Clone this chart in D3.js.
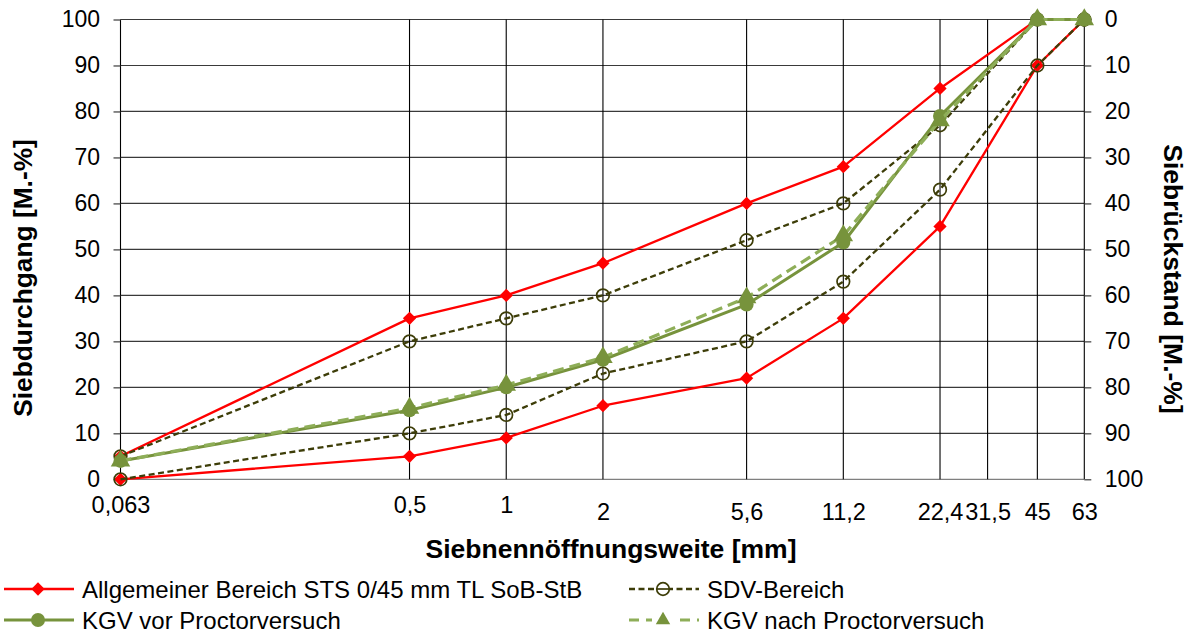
<!DOCTYPE html>
<html>
<head>
<meta charset="utf-8">
<script src="https://cdn.jsdelivr.net/npm/d3@7"></script>
<style>
  html, body { margin: 0; padding: 0; background: #fff; }
  svg { display: block; font-family: "Liberation Sans", Arial, sans-serif; }
</style>
</head>
<body>
<svg id="chart" width="1195" height="635"></svg>
<script>
// Sieve sizes [mm] that carry measured values
const sieveSizes = [0.063, 0.5, 1, 2, 5.6, 11.2, 22.4, 45, 63];
// Sieve sizes shown on the axis (grid lines + labels)
const gridSizes = [0.063, 0.5, 1, 2, 5.6, 11.2, 22.4, 31.5, 45, 63];
const gridLabels = ["0,063", "0,5", "1", "2", "5,6", "11,2", "22,4", "31,5", "45", "63"];
const yTicks = [0, 10, 20, 30, 40, 50, 60, 70, 80, 90, 100];

// Passing percentages [M.-%]
const stsUpper = [5, 35, 40, 47, 60, 68, 85, 100, 100];
const stsLower = [0, 5, 9, 16, 22, 35, 55, 90, 100];
const sdvUpper = [5, 30, 35, 40, 52, 60, 77, 100, 100];
const sdvLower = [0, 10, 14, 23, 30, 43, 63, 90, 100];
const kgvVor = [4, 15, 20, 26, 38, 51.5, 79, 100, 100];
const kgvNach = [4, 15.5, 20.5, 26.5, 39.5, 53, 78, 100, 100];

const legendLabels = [
  "Allgemeiner Bereich STS 0/45 mm TL SoB-StB",
  "SDV-Bereich",
  "KGV vor Proctorversuch",
  "KGV nach Proctorversuch"
];

const RED = "#ff0000";
const OLIVE = "#3d3d08";
const GREEN = "#77933c";
const GREEN_LIGHT = "#8eae58";

const svg = d3.select("#chart");
const plotLeft = 120.5, plotRight = 1084.3, plotTop = 19.5, plotBottom = 479.3;

const x = d3.scaleLog().domain([0.063, 63]).range([plotLeft, plotRight]);
const y = d3.scaleLinear().domain([0, 100]).range([plotBottom, plotTop]);
const yRev = d3.scaleLinear().domain([100, 0]).range([plotBottom, plotTop]);

// Horizontal grid
svg.append("g").selectAll("line").data(yTicks).join("line")
  .attr("x1", plotLeft).attr("x2", plotRight)
  .attr("y1", d => y(d)).attr("y2", d => y(d))
  .attr("stroke", d => d === 0 ? "#7f7f7f" : "#3a3a3a").attr("stroke-width", 1.2);

// Vertical grid
svg.append("g").selectAll("line").data(gridSizes).join("line")
  .attr("x1", d => x(d)).attr("x2", d => x(d))
  .attr("y1", plotTop).attr("y2", plotBottom)
  .attr("stroke", "#000").attr("stroke-width", 1.1);

// Left axis (passing)
const yAxisL = d3.axisLeft(y).tickValues(yTicks).tickSize(7).tickPadding(13.5);
const gL = svg.append("g").attr("transform", `translate(${plotLeft},0)`).call(yAxisL);
// Right axis (retained)
const yAxisR = d3.axisRight(yRev).tickValues(yTicks).tickSize(7).tickPadding(13.5);
const gR = svg.append("g").attr("transform", `translate(${plotRight},0)`).call(yAxisR);
[gL, gR].forEach(g => {
  g.select(".domain").remove();
  g.selectAll(".tick line").attr("stroke", "#3a3a3a").attr("stroke-width", 1.2);
  g.selectAll(".tick text").attr("font-size", 23).attr("fill", "#000")
    .attr("font-family", "Liberation Sans, Arial, sans-serif");
});

// X axis labels (the three finest sieves sit a little higher)
const xAxis = d3.axisBottom(x).tickValues(gridSizes)
  .tickFormat((d, i) => gridLabels[i]).tickSize(0).tickPadding(0);
const gX = svg.append("g").attr("transform", `translate(0,${plotBottom})`).call(xAxis);
gX.select(".domain").remove();
gX.selectAll(".tick text")
  .attr("font-size", 23.5).attr("fill", "#000")
  .attr("font-family", "Liberation Sans, Arial, sans-serif")
  .attr("dy", null)
  .attr("y", d => d <= 1 ? 34 : 41);

// Axis titles
svg.append("text").attr("x", 611).attr("y", 558).attr("text-anchor", "middle")
  .attr("font-size", 26.5).attr("font-weight", "bold").text("Siebnennöffnungsweite [mm]");
svg.append("text").attr("transform", "translate(32,278) rotate(-90)").attr("text-anchor", "middle")
  .attr("font-size", 26.3).attr("font-weight", "bold").text("Siebdurchgang [M.-%]");
svg.append("text").attr("transform", "translate(1164,279) rotate(90)").attr("text-anchor", "middle")
  .attr("font-size", 26.5).attr("font-weight", "bold").text("Siebrückstand [M.-%]");

// Marker shapes
const diamond = d3.symbol().type(d3.symbolDiamond2).size(112);
const triangle = d3.symbol().type(d3.symbolTriangle).size(165);
const triangleSmall = d3.symbol().type(d3.symbolTriangle).size(90);

const line = d3.line().x((d, i) => x(sieveSizes[i])).y(d => y(d));
const plot = svg.append("g");

function drawSeries(values, opts) {
  plot.append("path").datum(values)
    .attr("d", line).attr("fill", "none")
    .attr("stroke", opts.stroke).attr("stroke-width", opts.width)
    .attr("stroke-dasharray", opts.dash || null)
    .attr("stroke-linejoin", "round");
  const pts = plot.append("g").selectAll("g").data(values).join("g")
    .attr("transform", (d, i) => `translate(${x(sieveSizes[i])},${y(d)})`);
  opts.marker(pts);
}

const diamondMarker = sel => sel.append("path").attr("d", diamond).attr("fill", RED);
const openCircle = sel => sel.append("circle").attr("r", 6.3).attr("fill", "none")
  .attr("stroke", OLIVE).attr("stroke-width", 1.7);
const greenCircle = sel => sel.append("circle").attr("r", 7).attr("fill", GREEN);
const greenTriangle = sel => sel.append("path").attr("d", triangle).attr("fill", GREEN);

drawSeries(stsUpper, { stroke: RED, width: 2.3, marker: diamondMarker });
drawSeries(stsLower, { stroke: RED, width: 2.3, marker: diamondMarker });
drawSeries(sdvUpper, { stroke: OLIVE, width: 2.3, dash: "6,3.5", marker: openCircle });
drawSeries(sdvLower, { stroke: OLIVE, width: 2.3, dash: "6,3.5", marker: openCircle });
drawSeries(kgvVor, { stroke: GREEN, width: 3, marker: greenCircle });
drawSeries(kgvNach, { stroke: GREEN_LIGHT, width: 3.2, dash: "11,6", marker: greenTriangle });

// Legend
const legend = svg.append("g").attr("font-size", 24);
const rows = [
  { lx: 4, tx: 82, ly: 589, stroke: RED, width: 2.3, dash: null, mark: "diamond" },
  { lx: 629, tx: 707, ly: 589, stroke: OLIVE, width: 2.3, dash: "6,3.5", mark: "open" },
  { lx: 4, tx: 82, ly: 620, stroke: GREEN, width: 3, dash: null, mark: "circle" },
  { lx: 629, tx: 707, ly: 620, stroke: GREEN_LIGHT, width: 3.2, dash: "10,7", mark: "triangle" }
];
rows.forEach((r, i) => {
  const g = legend.append("g");
  g.append("line").attr("x1", r.lx).attr("x2", r.lx + 70).attr("y1", r.ly).attr("y2", r.ly)
    .attr("stroke", r.stroke).attr("stroke-width", r.width).attr("stroke-dasharray", r.dash);
  const m = g.append("g").attr("transform", `translate(${r.lx + 34},${r.ly})`);
  if (r.mark === "diamond") m.append("path").attr("d", diamond).attr("fill", RED);
  if (r.mark === "open") m.append("circle").attr("r", 6.3).attr("fill", "#fff")
    .attr("stroke", OLIVE).attr("stroke-width", 1.7);
  if (r.mark === "open") m.append("line").attr("x1", -6).attr("x2", 6)
    .attr("stroke", OLIVE).attr("stroke-width", 1.7);
  if (r.mark === "circle") m.append("circle").attr("r", 7).attr("fill", GREEN);
  if (r.mark === "triangle") {
    m.append("rect").attr("x", -11).attr("y", -9).attr("width", 22).attr("height", 16).attr("fill", "#fff");
    m.append("path").attr("d", triangleSmall).attr("fill", GREEN);
  }
  g.append("text").attr("x", r.tx).attr("y", r.ly + 8.5).text(legendLabels[i]);
});
</script>
</body>
</html>
